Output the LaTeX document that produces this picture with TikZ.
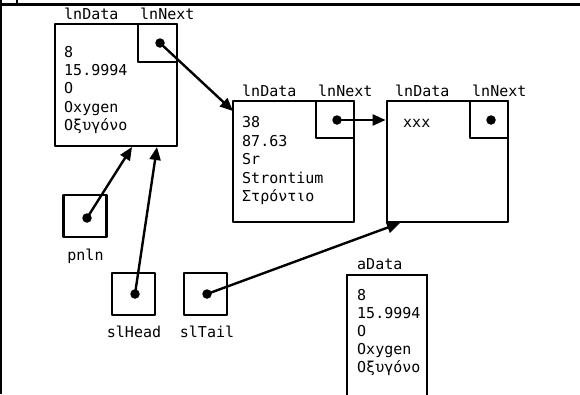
\documentclass[tikz,border=0pt]{standalone}
\usepackage{fontspec}
\setmonofont{DejaVu Sans Mono}
\usetikzlibrary{arrows.meta}
\begin{document}
\begin{tikzpicture}[x=1pt,y=-1pt,
  every node/.style={font=\ttfamily\fontsize{15}{18}\selectfont},
  box/.style={draw,line width=2.7pt,line join=round,inner sep=0pt,minimum width=#1,minimum height=#1},
  cell/.style={draw,line width=2.7pt,line join=round,inner sep=0pt},
  ptr/.style={draw,line width=2.7pt,line join=round,inner sep=0pt,minimum width=43pt,minimum height=42pt},
  dot/.style={circle,fill,inner sep=0pt,minimum size=9.5pt},
  txt/.style={anchor=base west,inner sep=0pt},
  lbl/.style={anchor=base,inner sep=0pt},
  link/.style={line width=2.4pt,-{Triangle[length=13pt,width=11pt]}}]
\useasboundingbox (0,0) rectangle (580,394);
\clip (0,0) rectangle (580,394);
% frame
\draw[line width=2.2pt] (1,0) -- (1,394);
\draw[line width=2.2pt] (0,4.5) -- (580,4.5);
\draw[line width=1.5pt] (17,0) -- (17,4.5);
% box 1
\node[box=122pt] (b1) at (116,85) {};
\node[cell,minimum width=39pt,minimum height=38pt] (n1) at (157.5,43) {};
\node[dot] (d1) at (160,43) {};
\node[txt] (b1l) at (64,19) {lnData};
\node[txt] (n1l) at (140,19) {lnNext};
\node[txt] (b1a) at (64,57) {8};
\node[txt] (b1b) at (64,75.5) {15.9994};
\node[txt] (b1c) at (64,93.5) {O};
\node[txt] (b1d) at (64,112) {Oxygen};
\node[txt] (b1e) at (64,130) {Οξυγόνο};
% box 2
\node[box=121pt] (b2) at (293.5,161.5) {};
\node[cell,minimum width=38pt,minimum height=37pt] (n2) at (335,119.5) {};
\node[dot] (d2) at (337,120) {};
\node[txt] (b2l) at (242,96) {lnData};
\node[txt] (n2l) at (318,96) {lnNext};
\node[txt] (b2a) at (242,127) {38};
\node[txt] (b2b) at (242,146) {87.63};
\node[txt] (b2c) at (242,164.5) {Sr};
\node[txt] (b2d) at (242,183) {Strontium};
\node[txt] (b2e) at (242,201.5) {Στρόντιο};
% box 3
\node[box=121pt] (b3) at (447.5,161.5) {};
\node[cell,minimum width=38pt,minimum height=37pt] (n3) at (489,119.5) {};
\node[dot] (d3) at (491,120) {};
\node[txt] (b3l) at (395,96) {lnData};
\node[txt] (n3l) at (472,96) {lnNext};
\node[txt] (b3a) at (403,127) {xxx};
% pointers
\node[ptr] (p1) at (85,216) {};
\node[dot] (pd1) at (87,218) {};
\node[lbl] (p1l) at (85.5,260) {pnln};
\node[ptr] (p2) at (133.5,294) {};
\node[dot] (pd2) at (135,294) {};
\node[lbl] (p2l) at (134,337) {slHead};
\node[ptr] (p3) at (205.5,294) {};
\node[dot] (pd3) at (207,294) {};
\node[lbl] (p3l) at (207,337) {slTail};
% aData
\node[draw,line width=2.7pt,inner sep=0pt,minimum width=80pt,minimum height=140pt] (ad) at (387,345) {};
\node[txt] (adl) at (357,269) {aData};
\node[txt] (ada) at (357,300) {8};
\node[txt] (adb) at (357,318) {15.9994};
\node[txt] (adc) at (357,336) {O};
\node[txt] (add) at (357,354) {Oxygen};
\node[txt] (ade) at (357,372) {Οξυγόνο};
% links
\coordinate (t1) at (233,111);
\coordinate (t2) at (132,147);
\coordinate (t3) at (157,147);
\coordinate (t4) at (400,223);
\draw[link] (d1.center) -- (t1);
\draw[link] (d2.center) -- (b3.west |- d2);
\draw[link] (pd1.center) -- (t2);
\draw[link] (pd2.center) -- (t3);
\draw[link] (pd3.center) -- (t4);
\end{tikzpicture}
\end{document}
